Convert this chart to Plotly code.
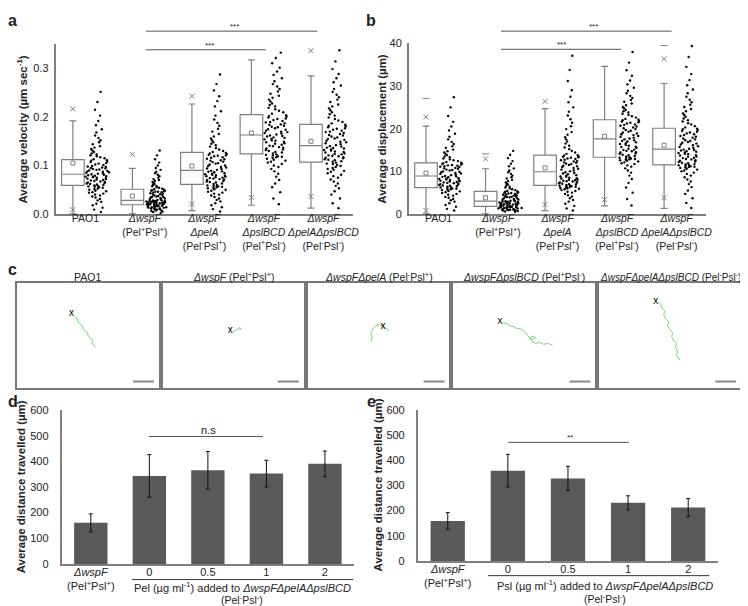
import plotly.graph_objects as go

W, H = 748, 606
FONT = "Liberation Sans, Arial, sans-serif"
GRAY = "#7f7f7f"
INK = "#222222"

# ---------------- panels a / b : single-cell motility ----------------
strain_ticks = [
    "PAO1",
    "<i>ΔwspF</i><br>(Pel<sup>+</sup>Psl<sup>+</sup>)",
    "<i>ΔwspF</i><br><i>ΔpelA</i><br>(Pel<sup>-</sup>Psl<sup>+</sup>)",
    "<i>ΔwspF</i><br><i>ΔpslBCD</i><br>(Pel<sup>+</sup>Psl<sup>-</sup>)",
    "<i>ΔwspF</i><br><i>ΔpelAΔpslBCD</i><br>(Pel<sup>-</sup>Psl<sup>-</sup>)",
]

vel_ticks = [0.0, 0.1, 0.2, 0.3]
vel_q1 = [0.059, 0.019, 0.061, 0.124, 0.107]
vel_med = [0.082, 0.028, 0.090, 0.163, 0.141]
vel_q3 = [0.112, 0.051, 0.127, 0.205, 0.185]
vel_lo = [0.0, 0.0, 0.007, 0.018, 0.012]
vel_hi = [0.192, 0.094, 0.227, 0.318, 0.285]
vel_mean = [0.105, 0.037, 0.099, 0.167, 0.150]
vel_p1 = [0.009, None, 0.020, 0.034, 0.036]
vel_p99 = [0.217, 0.123, 0.243, None, 0.337]

vel_pao1 = [0.004, 0.009, 0.013, 0.018, 0.021, 0.025, 0.028, 0.031, 0.034, 0.036, 0.038, 0.040, 0.042,
            0.044, 0.045, 0.047, 0.048, 0.050, 0.051, 0.052, 0.054, 0.055, 0.056, 0.057, 0.058,
            0.059, 0.060, 0.061, 0.062, 0.063, 0.064, 0.065, 0.066, 0.067, 0.068, 0.069, 0.070, 0.071,
            0.072, 0.073, 0.074, 0.075, 0.076, 0.077, 0.077, 0.078, 0.079, 0.080, 0.081, 0.082,
            0.083, 0.084, 0.085, 0.086, 0.087, 0.088, 0.089, 0.090, 0.091, 0.092, 0.093, 0.094, 0.095,
            0.096, 0.097, 0.098, 0.099, 0.101, 0.102, 0.104, 0.105, 0.107, 0.108, 0.110, 0.111,
            0.113, 0.115, 0.117, 0.119, 0.121, 0.123, 0.125, 0.128, 0.131, 0.134, 0.137, 0.140, 0.144,
            0.148, 0.152, 0.157, 0.162, 0.168, 0.175, 0.183, 0.192, 0.203, 0.215, 0.231, 0.252]
vel_wspf = [0.002, 0.004, 0.005, 0.006, 0.007, 0.008, 0.009, 0.010, 0.010, 0.011, 0.012, 0.012, 0.013,
            0.013, 0.014, 0.014, 0.015, 0.015, 0.016, 0.016, 0.017, 0.017, 0.017, 0.018, 0.018,
            0.019, 0.019, 0.020, 0.020, 0.020, 0.021, 0.021, 0.022, 0.022, 0.022, 0.023, 0.023, 0.024,
            0.024, 0.024, 0.025, 0.025, 0.026, 0.026, 0.026, 0.027, 0.027, 0.027, 0.028, 0.028,
            0.029, 0.030, 0.031, 0.032, 0.033, 0.034, 0.035, 0.035, 0.036, 0.037, 0.038, 0.039, 0.040,
            0.041, 0.042, 0.043, 0.044, 0.045, 0.046, 0.046, 0.047, 0.048, 0.048, 0.049, 0.050,
            0.051, 0.052, 0.054, 0.055, 0.057, 0.058, 0.060, 0.062, 0.064, 0.066, 0.068, 0.070, 0.072,
            0.075, 0.078, 0.081, 0.084, 0.087, 0.091, 0.095, 0.100, 0.106, 0.113, 0.121, 0.131]
vel_pela = [0.005, 0.010, 0.014, 0.018, 0.022, 0.026, 0.029, 0.032, 0.035, 0.038, 0.040, 0.042, 0.044,
            0.046, 0.048, 0.050, 0.051, 0.053, 0.054, 0.055, 0.056, 0.057, 0.058, 0.059, 0.060,
            0.062, 0.063, 0.065, 0.066, 0.067, 0.068, 0.070, 0.071, 0.072, 0.073, 0.074, 0.075, 0.076,
            0.077, 0.078, 0.079, 0.080, 0.081, 0.082, 0.083, 0.084, 0.086, 0.087, 0.088, 0.089,
            0.091, 0.093, 0.094, 0.096, 0.097, 0.099, 0.100, 0.102, 0.104, 0.105, 0.107, 0.108, 0.110,
            0.111, 0.113, 0.114, 0.116, 0.117, 0.119, 0.120, 0.121, 0.122, 0.124, 0.125, 0.126,
            0.128, 0.130, 0.133, 0.136, 0.139, 0.142, 0.145, 0.148, 0.152, 0.156, 0.160, 0.165, 0.170,
            0.176, 0.182, 0.188, 0.195, 0.203, 0.212, 0.222, 0.233, 0.243, 0.255, 0.268, 0.288]
vel_pslbcd = [0.020, 0.032, 0.045, 0.055, 0.063, 0.070, 0.077, 0.083, 0.088, 0.093, 0.097, 0.100, 0.103,
              0.106, 0.108, 0.110, 0.112, 0.114, 0.116, 0.117, 0.118, 0.119, 0.121, 0.122, 0.123,
              0.125, 0.127, 0.128, 0.130, 0.132, 0.133, 0.135, 0.137, 0.138, 0.140, 0.141, 0.143, 0.145,
              0.146, 0.148, 0.149, 0.151, 0.152, 0.154, 0.155, 0.157, 0.158, 0.160, 0.161, 0.162,
              0.164, 0.166, 0.167, 0.169, 0.170, 0.172, 0.174, 0.175, 0.177, 0.179, 0.180, 0.182, 0.184,
              0.185, 0.187, 0.189, 0.190, 0.192, 0.194, 0.196, 0.197, 0.199, 0.201, 0.202, 0.204,
              0.207, 0.210, 0.213, 0.216, 0.219, 0.222, 0.225, 0.228, 0.232, 0.236, 0.240, 0.244, 0.248,
              0.253, 0.258, 0.263, 0.268, 0.274, 0.280, 0.287, 0.294, 0.302, 0.311, 0.322, 0.333]
vel_double = [0.012, 0.022, 0.032, 0.040, 0.047, 0.053, 0.058, 0.063, 0.067, 0.071, 0.075, 0.078, 0.081,
              0.084, 0.087, 0.089, 0.091, 0.093, 0.095, 0.097, 0.099, 0.101, 0.103, 0.104, 0.106,
              0.108, 0.109, 0.111, 0.112, 0.113, 0.115, 0.116, 0.117, 0.119, 0.120, 0.121, 0.123, 0.124,
              0.125, 0.127, 0.128, 0.129, 0.131, 0.132, 0.133, 0.135, 0.136, 0.137, 0.139, 0.140,
              0.142, 0.144, 0.146, 0.148, 0.149, 0.151, 0.153, 0.155, 0.156, 0.158, 0.160, 0.162, 0.163,
              0.165, 0.167, 0.169, 0.170, 0.172, 0.174, 0.176, 0.177, 0.179, 0.181, 0.182, 0.184,
              0.187, 0.190, 0.193, 0.196, 0.199, 0.203, 0.206, 0.210, 0.214, 0.218, 0.222, 0.226, 0.231,
              0.236, 0.241, 0.246, 0.252, 0.258, 0.265, 0.272, 0.280, 0.289, 0.299, 0.315, 0.338]

disp_ticks = [0, 10, 20, 30, 40]
disp_q1 = [6.2, 1.8, 6.7, 13.3, 11.5]
disp_med = [8.9, 3.0, 9.9, 17.6, 15.2]
disp_q3 = [12.0, 5.3, 13.8, 22.1, 20.1]
disp_lo = [0.0, 0.0, 0.8, 1.9, 1.3]
disp_hi = [20.6, 10.6, 24.7, 34.6, 30.6]
disp_mean = [9.6, 3.8, 10.8, 18.2, 16.1]
disp_p1 = [0.8, None, 2.2, 3.4, 3.8]
disp_p99 = [22.7, 12.9, 26.4, None, 36.4]
disp_max = [27.1, 14.1, None, None, 39.5]

disp_pao1 = [0.8, 1.2, 1.7, 2.1, 2.5, 2.9, 3.2, 3.5, 3.8, 4.0, 4.3, 4.5, 4.7, 4.9, 5.1, 5.3, 5.4, 5.6,
             5.7, 5.8, 5.9, 6.0, 6.1, 6.2, 6.3, 6.4, 6.5, 6.6, 6.7, 6.8, 6.9, 7.0, 7.1, 7.2, 7.3, 7.4,
             7.5, 7.6, 7.7, 7.8, 7.9, 8.0, 8.1, 8.2, 8.3, 8.4, 8.6, 8.7, 8.8, 8.9, 9.1, 9.2, 9.4, 9.5,
             9.6, 9.8, 9.9, 10.0, 10.2, 10.3, 10.4, 10.6, 10.7, 10.8, 11.0, 11.1, 11.2, 11.3, 11.4,
             11.5, 11.6, 11.7, 11.8, 11.9, 12.0, 12.2, 12.4, 12.6, 12.8, 13.0, 13.3, 13.5, 13.8, 14.1,
             14.4, 14.7, 15.1, 15.5, 15.9, 16.4, 16.9, 17.5, 18.1, 18.8, 19.6, 20.5, 21.6, 23.0, 25.0, 27.4]
disp_wspf = [0.5, 0.6, 0.7, 0.8, 0.9, 0.9, 1.0, 1.0, 1.1, 1.1, 1.2, 1.2, 1.3, 1.3, 1.4, 1.4, 1.5, 1.5,
             1.5, 1.6, 1.6, 1.7, 1.7, 1.7, 1.8, 1.8, 1.9, 1.9, 2.0, 2.0, 2.1, 2.1, 2.2, 2.2, 2.3, 2.3,
             2.4, 2.4, 2.5, 2.5, 2.6, 2.6, 2.7, 2.7, 2.8, 2.8, 2.9, 2.9, 3.0, 3.0, 3.1, 3.2, 3.3, 3.4,
             3.5, 3.6, 3.7, 3.8, 3.9, 4.0, 4.0, 4.1, 4.2, 4.3, 4.4, 4.5, 4.6, 4.7, 4.8, 4.9, 5.0, 5.0,
             5.1, 5.2, 5.3, 5.4, 5.6, 5.8, 6.0, 6.2, 6.4, 6.6, 6.9, 7.1, 7.4, 7.7, 8.0, 8.3, 8.6, 9.0,
             9.4, 9.8, 10.2, 10.7, 11.2, 11.8, 12.4, 13.1, 13.9, 14.8]
disp_pela = [0.8, 1.3, 1.9, 2.4, 2.9, 3.3, 3.7, 4.1, 4.4, 4.7, 5.0, 5.2, 5.4, 5.6, 5.8, 5.9, 6.0, 6.1,
             6.2, 6.3, 6.4, 6.5, 6.5, 6.6, 6.7, 6.8, 6.9, 7.0, 7.1, 7.2, 7.3, 7.4, 7.5, 7.6, 7.7, 7.8,
             7.9, 8.0, 8.1, 8.3, 8.4, 8.5, 8.7, 8.8, 9.0, 9.1, 9.3, 9.5, 9.6, 9.8, 10.0, 10.2, 10.4,
             10.6, 10.8, 11.0, 11.2, 11.3, 11.5, 11.7, 11.8, 12.0, 12.1, 12.3, 12.4, 12.6, 12.7, 12.9,
             13.0, 13.2, 13.3, 13.4, 13.5, 13.7, 13.8, 14.1, 14.4, 14.8, 15.2, 15.6, 16.0, 16.5, 17.0,
             17.5, 18.0, 18.6, 19.2, 19.9, 20.6, 21.4, 22.2, 23.1, 24.0, 25.0, 26.2, 27.5, 29.0, 31.2,
             33.8, 37.1]
disp_pslbcd = [2.0, 3.5, 5.0, 6.2, 7.3, 8.2, 9.0, 9.7, 10.2, 10.7, 11.1, 11.4, 11.7, 11.9, 12.1, 12.3,
               12.5, 12.6, 12.7, 12.8, 12.9, 13.0, 13.1, 13.2, 13.3, 13.5, 13.6, 13.8, 13.9, 14.1, 14.2,
               14.4, 14.5, 14.7, 14.8, 15.0, 15.1, 15.3, 15.5, 15.7, 15.8, 16.0, 16.2, 16.4, 16.6, 16.8,
               17.0, 17.1, 17.3, 17.5, 17.7, 17.9, 18.1, 18.3, 18.5, 18.7, 18.9, 19.1, 19.3, 19.5, 19.7,
               19.9, 20.1, 20.3, 20.5, 20.7, 20.9, 21.0, 21.2, 21.4, 21.5, 21.7, 21.8, 22.0, 22.1, 22.3,
               22.6, 22.9, 23.2, 23.5, 23.8, 24.1, 24.4, 24.8, 25.1, 25.5, 25.9, 26.3, 26.7, 27.2, 27.7,
               28.3, 28.9, 29.6, 30.4, 31.3, 32.4, 33.7, 35.5, 38.0]
disp_double = [1.4, 2.6, 3.7, 4.7, 5.5, 6.3, 7.0, 7.6, 8.1, 8.6, 9.0, 9.4, 9.7, 10.0, 10.2, 10.4, 10.6,
               10.8, 10.9, 11.0, 11.1, 11.2, 11.3, 11.4, 11.5, 11.6, 11.7, 11.9, 12.0, 12.2, 12.3, 12.5,
               12.6, 12.8, 12.9, 13.1, 13.2, 13.4, 13.5, 13.7, 13.8, 14.0, 14.1, 14.3, 14.4, 14.6, 14.7,
               14.9, 15.0, 15.1, 15.3, 15.5, 15.7, 15.9, 16.1, 16.3, 16.5, 16.7, 16.9, 17.1, 17.3, 17.5,
               17.7, 17.9, 18.1, 18.3, 18.5, 18.7, 18.9, 19.1, 19.3, 19.5, 19.7, 19.9, 20.0, 20.3, 20.6,
               21.0, 21.3, 21.7, 22.0, 22.4, 22.8, 23.2, 23.6, 24.1, 24.6, 25.1, 25.6, 26.2, 26.8, 27.5,
               28.3, 29.2, 30.2, 31.4, 32.8, 34.5, 36.8, 39.4]

# ---------------- panel c : example tracks ----------------
track_titles = [
    "PAO1",
    "<i>ΔwspF</i> (Pel<sup>+</sup>Psl<sup>+</sup>)",
    "<i>ΔwspFΔpelA</i> (Pel<sup>-</sup>Psl<sup>+</sup>)",
    "<i>ΔwspFΔpslBCD</i> (Pel<sup>+</sup>Psl<sup>-</sup>)",
    "<i>ΔwspFΔpelAΔpslBCD</i> (Pel<sup>-</sup>Psl<sup>-</sup>)",
]
track_x = [
    [58, 61, 62, 66, 67, 71, 72, 76, 76, 79],
    [71, 73, 75, 77, 79, 77],
    [64, 65, 64, 66, 69, 72, 75, 78, 80, 82],
    [50, 54, 57, 61, 64, 67, 70, 73, 75, 77, 80, 83, 80, 77, 79, 83, 87, 91, 95, 100],
    [60, 62, 63, 66, 65, 67, 70, 69, 71, 74, 73, 75, 78, 77, 79, 78, 81],
]
track_y = [
    [35, 37, 41, 44, 48, 51, 55, 58, 62, 66],
    [50, 49, 48, 46, 47, 48],
    [60, 55, 51, 47, 44, 43, 44, 46, 47, 50],
    [41, 42, 44, 45, 47, 47, 49, 51, 54, 57, 58, 56, 55, 56, 60, 62, 61, 63, 62, 64],
    [20, 22, 26, 29, 33, 37, 40, 44, 48, 51, 55, 59, 62, 66, 70, 74, 79],
]
start_x = [55, 68, 76, 47, 57]
start_y = [32, 49, 45, 40, 19]

# ---------------- panels d / e : distance travelled ----------------
dose_ticks = ["<i>ΔwspF</i><br>(Pel<sup>+</sup>Psl<sup>+</sup>)", "0", "0.5", "1", "2"]
dist_ticks = [0, 100, 200, 300, 400, 500, 600]
pel_dist = [160, 343, 365, 352, 390]
pel_err = [35, 83, 73, 52, 50]
psl_dist = [159, 359, 328, 231, 212]
psl_err = [33, 65, 48, 28, 36]


def fx(p):
    return p / W


def fy(p):
    return 1 - p / H


fig = go.Figure()


def box_panel(xa, ya, q1, med, q3, lo, hi, mean, p1, p99, groups, top=None):
    xs = [i - 0.21 for i in range(5)]
    for i in range(5):
        fig.add_trace(go.Box(
            x=[xs[i]], q1=[q1[i]], median=[med[i]], q3=[q3[i]],
            lowerfence=[lo[i]], upperfence=[hi[i]],
            width=0.38, whiskerwidth=0.3, boxpoints=False,
            fillcolor="white", line=dict(color=GRAY, width=1.2),
            xaxis=xa, yaxis=ya, showlegend=False, hoverinfo="skip"))
        fig.add_trace(go.Box(
            y=groups[i], x0=i + 0.21, width=0.42,
            boxpoints="all", jitter=1, pointpos=0,
            marker=dict(color="black", size=2.4),
            line=dict(width=0), fillcolor="rgba(0,0,0,0)",
            xaxis=xa, yaxis=ya, showlegend=False))
    marks = [(mean, "square-open", 4), (p1, "x-thin-open", 5), (p99, "x-thin-open", 5)]
    if top:
        marks.append((top, "line-ew-open", 5))
    for vals, sym, size in marks:
        fig.add_trace(go.Scatter(
            x=xs, y=vals, mode="markers",
            marker=dict(symbol=sym, size=size, color=GRAY, line=dict(width=1)),
            xaxis=xa, yaxis=ya, showlegend=False))


box_panel("x", "y", vel_q1, vel_med, vel_q3, vel_lo, vel_hi, vel_mean, vel_p1, vel_p99,
          [vel_pao1, vel_wspf, vel_pela, vel_pslbcd, vel_double])
box_panel("x2", "y2", disp_q1, disp_med, disp_q3, disp_lo, disp_hi, disp_mean, disp_p1, disp_p99,
          [disp_pao1, disp_wspf, disp_pela, disp_pslbcd, disp_double], top=disp_max)

# tracks
for i in range(5):
    n = str(i + 3)
    fig.add_trace(go.Scatter(x=track_x[i], y=track_y[i], mode="lines",
                             line=dict(color="#6fdc6f", width=1),
                             xaxis="x" + n, yaxis="y" + n, showlegend=False))
    fig.add_trace(go.Scatter(x=[start_x[i]], y=[start_y[i]], mode="text", text=["x"],
                             textfont=dict(family=FONT, size=10, color="black"),
                             xaxis="x" + n, yaxis="y" + n, showlegend=False))

# bars
for n, vals, errs in (("8", pel_dist, pel_err), ("9", psl_dist, psl_err)):
    fig.add_trace(go.Bar(x=list(range(5)), y=vals, width=0.57,
                         marker=dict(color="#595959", line=dict(width=0)),
                         error_y=dict(type="data", array=errs, color="#111111", thickness=1, width=2),
                         xaxis="x" + n, yaxis="y" + n, showlegend=False))

axis_style = dict(showline=True, linecolor=GRAY, linewidth=1.5, ticks="", showgrid=False,
                  zeroline=False, tickfont=dict(family=FONT, size=11, color=INK))
cat_style = dict(axis_style, range=[-0.5, 4.5], tickvals=list(range(5)), tickangle=0)
strain_font = dict(family=FONT, size=10.5, color=INK)

layout = dict(
    xaxis=dict(cat_style, domain=[fx(48), fx(348)], ticktext=strain_ticks, anchor="y",
               tickfont=strain_font, ticklabelstandoff=-6),
    yaxis=dict(axis_style, domain=[fy(204), fy(31)], range=[0, 0.35], tickvals=vel_ticks,
               tickformat=".1f", anchor="x", ticklabelstandoff=3),
    xaxis2=dict(cat_style, domain=[fx(404), fx(704)], ticktext=strain_ticks, anchor="y2",
                tickfont=strain_font, ticklabelstandoff=-6),
    yaxis2=dict(axis_style, domain=[fy(204), fy(30)], range=[0, 40], tickvals=disp_ticks,
                anchor="x2", ticklabelstandoff=3),
    xaxis8=dict(cat_style, domain=[fx(54), fx(349)], ticktext=dose_ticks, anchor="y8",
                ticklabelstandoff=-3),
    yaxis8=dict(axis_style, domain=[fy(561), fy(404)], range=[0, 600], tickvals=dist_ticks,
                anchor="x8", ticklabelstandoff=9),
    xaxis9=dict(cat_style, domain=[fx(413), fx(716)], ticktext=dose_ticks, anchor="y9",
                ticklabelstandoff=-3),
    yaxis9=dict(axis_style, domain=[fy(558), fy(404)], range=[0, 600], tickvals=dist_ticks,
                anchor="x9", ticklabelstandoff=9),
)

track_boxes = [(9, 152), (156, 298), (302, 445), (449, 592), (596, 739)]
title_sizes = [10.5, 10.5, 10.5, 10.5, 10]
shapes = []
annotations = []
for i, (l, r) in enumerate(track_boxes):
    n = str(i + 3)
    frame = dict(showline=True, mirror=True, linecolor="#777777", linewidth=1.5, ticks="",
                 showticklabels=False, showgrid=False, zeroline=False)
    layout["xaxis" + n] = dict(frame, domain=[fx(l), fx(r)], range=[0, r - l], anchor="y" + n)
    layout["yaxis" + n] = dict(frame, domain=[fy(382), fy(274)], range=[108, 0], anchor="x" + n)
    # scale bar
    shapes.append(dict(type="line", xref="x" + n, yref="y" + n, x0=r - l - 26, x1=r - l - 5,
                       y0=101, y1=101, line=dict(color="#888888", width=2)))
    annotations.append(dict(x=fx((l + r) / 2), y=fy(268), text=track_titles[i],
                            font=dict(size=title_sizes[i])))


def hline(x0, x1, y, color="#555555"):
    shapes.append(dict(type="line", xref="paper", yref="paper", x0=fx(x0), x1=fx(x1),
                       y0=fy(y), y1=fy(y), line=dict(color=color, width=1)))


# significance bars
hline(139, 312, 17.5)
hline(139, 260, 36.5)
hline(497, 669, 17.5)
hline(497, 618, 36)
hline(142, 257, 431)
hline(504, 626, 437)
# group underlines for d / e
hline(125, 348, 577, "#333333")
hline(484, 707, 573, "#333333")

annotations += [
    dict(x=fx(228), y=fy(13), text="***", font=dict(size=8)),
    dict(x=fx(203), y=fy(32), text="***", font=dict(size=8)),
    dict(x=fx(590), y=fy(13), text="***", font=dict(size=8)),
    dict(x=fx(558), y=fy(31.5), text="***", font=dict(size=8)),
    dict(x=fx(202), y=fy(424), text="n.s", font=dict(size=11)),
    dict(x=fx(567), y=fy(432), text="**", font=dict(size=8)),
    dict(x=fx(236), y=fy(585), text="Pel (µg ml<sup>-1</sup>) added to <i>ΔwspFΔpelAΔpslBCD</i>"),
    dict(x=fx(236), y=fy(597), text="(Pel<sup>-</sup>Psl<sup>-</sup>)", font=dict(size=10.5)),
    dict(x=fx(602), y=fy(583), text="Psl (µg ml<sup>-1</sup>) added to <i>ΔwspFΔpelAΔpslBCD</i>"),
    dict(x=fx(602), y=fy(596), text="(Pel<sup>-</sup>Psl<sup>-</sup>)", font=dict(size=10.5)),
    # axis titles
    dict(x=fx(14), y=fy(118), text="<b>Average velocity (µm sec<sup>-1</sup>)</b>", textangle=-90,
         font=dict(size=11.5)),
    dict(x=fx(377), y=fy(117), text="<b>Average displacement (µm)</b>", textangle=-90,
         font=dict(size=11.5)),
    dict(x=fx(14), y=fy(482), text="<b>Average distance travelled (µm)</b>", textangle=-90,
         font=dict(size=11.5)),
    dict(x=fx(373), y=fy(481), text="<b>Average distance travelled (µm)</b>", textangle=-90,
         font=dict(size=11.5)),
]
for letter, x, y in (("a", 5, 7), ("b", 366, 7), ("c", 5, 261), ("d", 5, 395), ("e", 366, 395)):
    annotations.append(dict(x=fx(x), y=fy(y), text="<b>%s</b>" % letter, font=dict(size=16)))

for a in annotations:
    a["font"] = dict(dict(family=FONT, size=11, color=INK), **a.get("font", {}))
    a.update(xref="paper", yref="paper", showarrow=False, xanchor="center", yanchor="middle")

fig.update_layout(
    width=W, height=H,
    margin=dict(l=0, r=0, t=0, b=0),
    paper_bgcolor="white", plot_bgcolor="white",
    font=dict(family=FONT, size=11, color=INK),
    showlegend=False,
    shapes=shapes,
    annotations=annotations,
    **layout,
)

fig.write_html("out.html")
